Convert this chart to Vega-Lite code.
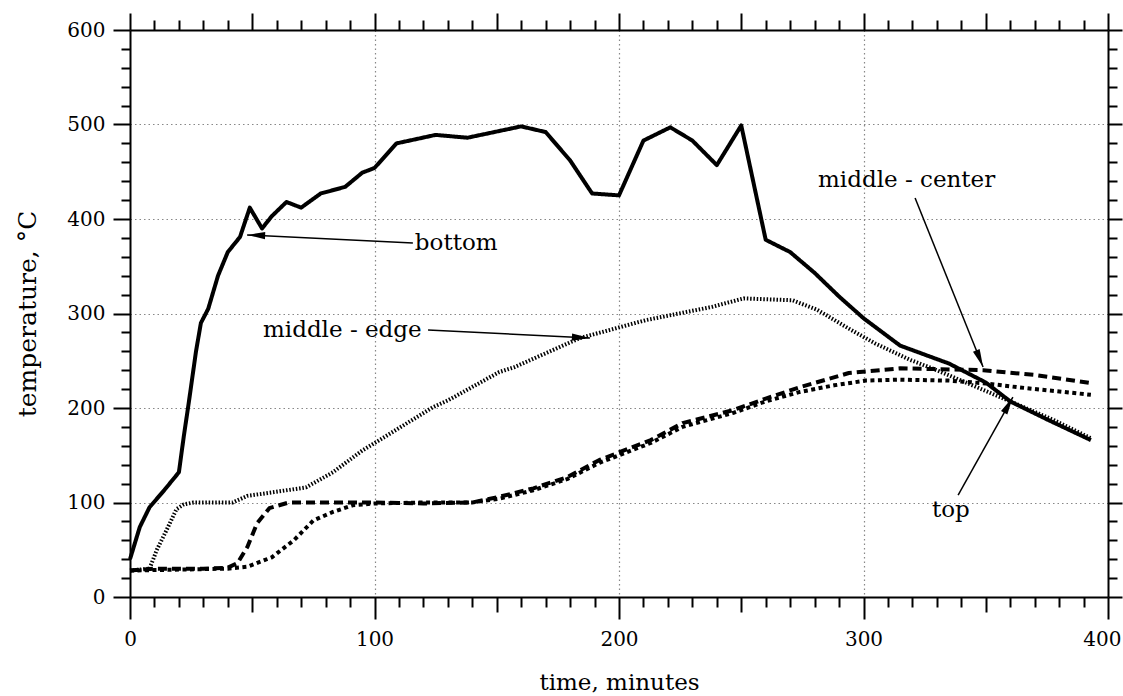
{
  "$schema": "https://vega.github.io/schema/vega-lite/v6.json",
  "width": 978,
  "height": 567,
  "autosize": {"type": "none"},
  "padding": {"left": 130, "top": 30, "right": 15, "bottom": 99},
  "background": "white",
  "config": {
    "view": {"stroke": null},
    "font": "DejaVu Serif",
    "axis": {
      "domainColor": "black",
      "domainWidth": 2,
      "tickColor": "black",
      "tickWidth": 2,
      "labelColor": "black",
      "titleColor": "black",
      "labelFont": "DejaVu Serif",
      "titleFont": "DejaVu Serif",
      "labelFontSize": 20,
      "titleFontSize": 23,
      "titleFontWeight": "normal"
    }
  },
  "datasets": {
    "series": [
      {"series": "bottom", "time": 0, "temperature": 40},
      {"series": "bottom", "time": 4, "temperature": 74},
      {"series": "bottom", "time": 8, "temperature": 95},
      {"series": "bottom", "time": 14, "temperature": 113},
      {"series": "bottom", "time": 20, "temperature": 132},
      {"series": "bottom", "time": 22, "temperature": 170},
      {"series": "bottom", "time": 24, "temperature": 205},
      {"series": "bottom", "time": 27, "temperature": 260},
      {"series": "bottom", "time": 29, "temperature": 290},
      {"series": "bottom", "time": 32, "temperature": 305},
      {"series": "bottom", "time": 36, "temperature": 340},
      {"series": "bottom", "time": 40, "temperature": 365},
      {"series": "bottom", "time": 45, "temperature": 381},
      {"series": "bottom", "time": 49, "temperature": 412},
      {"series": "bottom", "time": 54, "temperature": 390},
      {"series": "bottom", "time": 58, "temperature": 403},
      {"series": "bottom", "time": 64, "temperature": 418},
      {"series": "bottom", "time": 70, "temperature": 412},
      {"series": "bottom", "time": 78, "temperature": 427},
      {"series": "bottom", "time": 88, "temperature": 434},
      {"series": "bottom", "time": 95, "temperature": 449},
      {"series": "bottom", "time": 100, "temperature": 454},
      {"series": "bottom", "time": 109, "temperature": 480},
      {"series": "bottom", "time": 125, "temperature": 489},
      {"series": "bottom", "time": 138, "temperature": 486},
      {"series": "bottom", "time": 160, "temperature": 498},
      {"series": "bottom", "time": 170, "temperature": 492},
      {"series": "bottom", "time": 180, "temperature": 462},
      {"series": "bottom", "time": 189, "temperature": 427},
      {"series": "bottom", "time": 200, "temperature": 425},
      {"series": "bottom", "time": 210, "temperature": 483},
      {"series": "bottom", "time": 221, "temperature": 497},
      {"series": "bottom", "time": 230, "temperature": 483},
      {"series": "bottom", "time": 240, "temperature": 457},
      {"series": "bottom", "time": 250, "temperature": 499},
      {"series": "bottom", "time": 260, "temperature": 378},
      {"series": "bottom", "time": 270, "temperature": 365},
      {"series": "bottom", "time": 280, "temperature": 343},
      {"series": "bottom", "time": 290, "temperature": 318},
      {"series": "bottom", "time": 300, "temperature": 295},
      {"series": "bottom", "time": 315, "temperature": 266},
      {"series": "bottom", "time": 335, "temperature": 247},
      {"series": "bottom", "time": 350, "temperature": 227},
      {"series": "bottom", "time": 360, "temperature": 207},
      {"series": "bottom", "time": 375, "temperature": 188},
      {"series": "bottom", "time": 393, "temperature": 166},
      {"series": "middle - edge", "time": 0, "temperature": 28},
      {"series": "middle - edge", "time": 8, "temperature": 30},
      {"series": "middle - edge", "time": 11, "temperature": 50},
      {"series": "middle - edge", "time": 15, "temperature": 71},
      {"series": "middle - edge", "time": 19, "temperature": 93},
      {"series": "middle - edge", "time": 22, "temperature": 98},
      {"series": "middle - edge", "time": 26, "temperature": 100},
      {"series": "middle - edge", "time": 42, "temperature": 100},
      {"series": "middle - edge", "time": 48, "temperature": 107},
      {"series": "middle - edge", "time": 59, "temperature": 111},
      {"series": "middle - edge", "time": 72, "temperature": 116},
      {"series": "middle - edge", "time": 83, "temperature": 132},
      {"series": "middle - edge", "time": 95, "temperature": 155},
      {"series": "middle - edge", "time": 102, "temperature": 166},
      {"series": "middle - edge", "time": 124, "temperature": 201},
      {"series": "middle - edge", "time": 130, "temperature": 208},
      {"series": "middle - edge", "time": 151, "temperature": 238},
      {"series": "middle - edge", "time": 157, "temperature": 243},
      {"series": "middle - edge", "time": 184, "temperature": 274},
      {"series": "middle - edge", "time": 211, "temperature": 293},
      {"series": "middle - edge", "time": 238, "temperature": 307},
      {"series": "middle - edge", "time": 251, "temperature": 316},
      {"series": "middle - edge", "time": 271, "temperature": 314},
      {"series": "middle - edge", "time": 281, "temperature": 304},
      {"series": "middle - edge", "time": 294, "temperature": 284},
      {"series": "middle - edge", "time": 305, "temperature": 268},
      {"series": "middle - edge", "time": 319, "temperature": 251},
      {"series": "middle - edge", "time": 330, "temperature": 240},
      {"series": "middle - edge", "time": 340, "temperature": 229},
      {"series": "middle - edge", "time": 360, "temperature": 207},
      {"series": "middle - edge", "time": 378, "temperature": 187},
      {"series": "middle - edge", "time": 393, "temperature": 168},
      {"series": "middle - center", "time": 0, "temperature": 28},
      {"series": "middle - center", "time": 10, "temperature": 30},
      {"series": "middle - center", "time": 20, "temperature": 30},
      {"series": "middle - center", "time": 30, "temperature": 30},
      {"series": "middle - center", "time": 40, "temperature": 31},
      {"series": "middle - center", "time": 44, "temperature": 36},
      {"series": "middle - center", "time": 48, "temperature": 53},
      {"series": "middle - center", "time": 52, "temperature": 78},
      {"series": "middle - center", "time": 57, "temperature": 94},
      {"series": "middle - center", "time": 65, "temperature": 100},
      {"series": "middle - center", "time": 100, "temperature": 100},
      {"series": "middle - center", "time": 120, "temperature": 99},
      {"series": "middle - center", "time": 140, "temperature": 100},
      {"series": "middle - center", "time": 151, "temperature": 106},
      {"series": "middle - center", "time": 165, "temperature": 115},
      {"series": "middle - center", "time": 179, "temperature": 127},
      {"series": "middle - center", "time": 192, "temperature": 145},
      {"series": "middle - center", "time": 213, "temperature": 166},
      {"series": "middle - center", "time": 226, "temperature": 184},
      {"series": "middle - center", "time": 247, "temperature": 198},
      {"series": "middle - center", "time": 260, "temperature": 210},
      {"series": "middle - center", "time": 274, "temperature": 222},
      {"series": "middle - center", "time": 294, "temperature": 237},
      {"series": "middle - center", "time": 315, "temperature": 242},
      {"series": "middle - center", "time": 349, "temperature": 240},
      {"series": "middle - center", "time": 370, "temperature": 235},
      {"series": "middle - center", "time": 394, "temperature": 226},
      {"series": "top", "time": 0, "temperature": 28},
      {"series": "top", "time": 20, "temperature": 29},
      {"series": "top", "time": 40, "temperature": 30},
      {"series": "top", "time": 48, "temperature": 32},
      {"series": "top", "time": 58, "temperature": 42},
      {"series": "top", "time": 67, "temperature": 60},
      {"series": "top", "time": 75, "temperature": 81},
      {"series": "top", "time": 83, "temperature": 90},
      {"series": "top", "time": 91, "temperature": 97},
      {"series": "top", "time": 100, "temperature": 99},
      {"series": "top", "time": 120, "temperature": 100},
      {"series": "top", "time": 140, "temperature": 100},
      {"series": "top", "time": 151, "temperature": 104},
      {"series": "top", "time": 165, "temperature": 113},
      {"series": "top", "time": 179, "temperature": 125},
      {"series": "top", "time": 192, "temperature": 142},
      {"series": "top", "time": 213, "temperature": 163},
      {"series": "top", "time": 226, "temperature": 180},
      {"series": "top", "time": 247, "temperature": 195},
      {"series": "top", "time": 260, "temperature": 207},
      {"series": "top", "time": 274, "temperature": 217},
      {"series": "top", "time": 288, "temperature": 224},
      {"series": "top", "time": 301, "temperature": 229},
      {"series": "top", "time": 315, "temperature": 230},
      {"series": "top", "time": 335, "temperature": 229},
      {"series": "top", "time": 350, "temperature": 226},
      {"series": "top", "time": 363, "temperature": 222},
      {"series": "top", "time": 393, "temperature": 214}
    ],
    "notes": [
      {"label": "bottom", "tx": 116.5, "ty": 375, "x": 115.7, "y": 374.6, "x2": 47.9, "y2": 383.1},
      {"label": "middle - edge", "tx": 54.4, "ty": 283, "x": 121.9, "y": 282.5, "x2": 188.1, "y2": 274.1},
      {"label": "middle - center", "tx": 281.4, "ty": 441, "x": 321.1, "y": 422.2, "x2": 348.9, "y2": 243.4},
      {"label": "top", "tx": 328, "ty": 92, "x": 338.7, "y": 107.9, "x2": 361.1, "y2": 211.6}
    ]
  },
  "layer": [
    {
      "data": {"name": "series"},
      "mark": {"type": "line", "color": "black", "strokeCap": "butt", "strokeJoin": "round"},
      "encoding": {
        "x": {
          "field": "time", "type": "quantitative",
          "scale": {"domain": [0, 400], "nice": false, "zero": false},
          "axis": {
            "orient": "bottom",
            "values": [0,10,20,30,40,50,60,70,80,90,100,110,120,130,140,150,160,170,180,190,200,210,220,230,240,250,260,270,280,290,300,310,320,330,340,350,360,370,380,390,400],
            "tickSize": {"condition": [{"test": "datum.value % 100 === 0", "value": 22}, {"test": "datum.value % 50 === 0", "value": 15}], "value": 10},
            "labelExpr": "datum.value % 100 === 0 ? datum.label : ''",
            "labelAlign": {"condition": {"test": "datum.value === 400", "value": "right"}, "value": "center"},
            "labelOffset": {"condition": {"test": "datum.value === 400", "value": 13}, "value": 0},
            "labelOverlap": false,
            "labelFlush": false,
            "labelPadding": 10,
            "grid": true,
            "gridColor": "#888888",
            "gridDash": [1.5, 3],
            "gridWidth": 1.2,
            "gridOpacity": {"condition": {"test": "datum.value % 100 === 0 && datum.value > 0 && datum.value < 400", "value": 1}, "value": 0},
            "title": "time, minutes",
            "titlePadding": 22
          }
        },
        "y": {
          "field": "temperature", "type": "quantitative",
          "scale": {"domain": [0, 600], "nice": false},
          "axis": {
            "orient": "left",
            "values": [0,20,40,60,80,100,120,140,160,180,200,220,240,260,280,300,320,340,360,380,400,420,440,460,480,500,520,540,560,580,600],
            "tickSize": {"condition": {"test": "datum.value % 100 === 0", "value": 17}, "value": 9},
            "labelExpr": "datum.value % 100 === 0 ? datum.label : ''",
            "labelOverlap": false,
            "labelFlush": false,
            "labelPadding": 8,
            "grid": true,
            "gridColor": "#888888",
            "gridDash": [1.5, 3],
            "gridWidth": 1.2,
            "gridOpacity": {"condition": {"test": "datum.value % 100 === 0 && datum.value > 0 && datum.value < 600", "value": 1}, "value": 0},
            "title": "temperature, °C",
            "titleFontSize": 25,
            "titlePadding": 26
          }
        },
        "detail": {"field": "series", "type": "nominal"},
        "strokeDash": {
          "field": "series", "type": "nominal",
          "scale": {"domain": ["bottom", "middle - edge", "middle - center", "top"], "range": [[1, 0], [1.5, 1.8], [9, 5], [4, 3.5]]},
          "legend": null
        },
        "strokeWidth": {
          "field": "series", "type": "nominal",
          "scale": {"domain": ["bottom", "middle - edge", "middle - center", "top"], "range": [4, 4, 3.2, 3.8]},
          "legend": null
        }
      }
    },
    {
      "data": {"name": "notes"},
      "mark": {"type": "text", "align": "left", "baseline": "middle", "font": "DejaVu Serif", "fontSize": 23, "color": "black"},
      "encoding": {
        "x": {
          "field": "tx", "type": "quantitative",
          "scale": {"domain": [0, 400], "nice": false, "zero": false},
          "axis": {
            "orient": "top",
            "values": [0,10,20,30,40,50,60,70,80,90,100,110,120,130,140,150,160,170,180,190,200,210,220,230,240,250,260,270,280,290,300,310,320,330,340,350,360,370,380,390,400],
            "tickSize": {"condition": {"test": "datum.value % 50 === 0", "value": 17}, "value": 10},
            "labels": false,
            "grid": false,
            "title": null
          }
        },
        "y": {
          "field": "ty", "type": "quantitative",
          "scale": {"domain": [0, 600], "nice": false},
          "axis": {
            "orient": "right",
            "values": [0,20,40,60,80,100,120,140,160,180,200,220,240,260,280,300,320,340,360,380,400,420,440,460,480,500,520,540,560,580,600],
            "tickSize": {"condition": {"test": "datum.value % 100 === 0", "value": 14}, "value": 9},
            "labels": false,
            "grid": false,
            "title": null
          }
        },
        "text": {"field": "label", "type": "nominal"}
      }
    },
    {
      "data": {"name": "notes"},
      "mark": {"type": "rule", "color": "black", "strokeWidth": 1.5},
      "encoding": {
        "x": {"field": "x", "type": "quantitative", "axis": null},
        "x2": {"field": "x2"},
        "y": {"field": "y", "type": "quantitative", "axis": null},
        "y2": {"field": "y2"}
      }
    },
    {
      "data": {"name": "notes"},
      "transform": [{"filter": "datum.label === 'bottom'"}],
      "mark": {"type": "point", "shape": "M0,0L0.4,2L-0.4,2Z", "filled": true, "color": "black", "opacity": 1, "size": 324, "angle": 272},
      "encoding": {
        "x": {"field": "x2", "type": "quantitative", "axis": null},
        "y": {"field": "y2", "type": "quantitative", "axis": null}
      }
    },
    {
      "data": {"name": "notes"},
      "transform": [{"filter": "datum.label === 'middle - edge'"}],
      "mark": {"type": "point", "shape": "M0,0L0.4,2L-0.4,2Z", "filled": true, "color": "black", "opacity": 1, "size": 324, "angle": 93},
      "encoding": {
        "x": {"field": "x2", "type": "quantitative", "axis": null},
        "y": {"field": "y2", "type": "quantitative", "axis": null}
      }
    },
    {
      "data": {"name": "notes"},
      "transform": [{"filter": "datum.label === 'middle - center'"}],
      "mark": {"type": "point", "shape": "M0,0L0.4,2L-0.4,2Z", "filled": true, "color": "black", "opacity": 1, "size": 324, "angle": 158},
      "encoding": {
        "x": {"field": "x2", "type": "quantitative", "axis": null},
        "y": {"field": "y2", "type": "quantitative", "axis": null}
      }
    },
    {
      "data": {"name": "notes"},
      "transform": [{"filter": "datum.label === 'top'"}],
      "mark": {"type": "point", "shape": "M0,0L0.4,2L-0.4,2Z", "filled": true, "color": "black", "opacity": 1, "size": 324, "angle": 29},
      "encoding": {
        "x": {"field": "x2", "type": "quantitative", "axis": null},
        "y": {"field": "y2", "type": "quantitative", "axis": null}
      }
    }
  ],
  "resolve": {"axis": {"x": "independent", "y": "independent"}}
}
